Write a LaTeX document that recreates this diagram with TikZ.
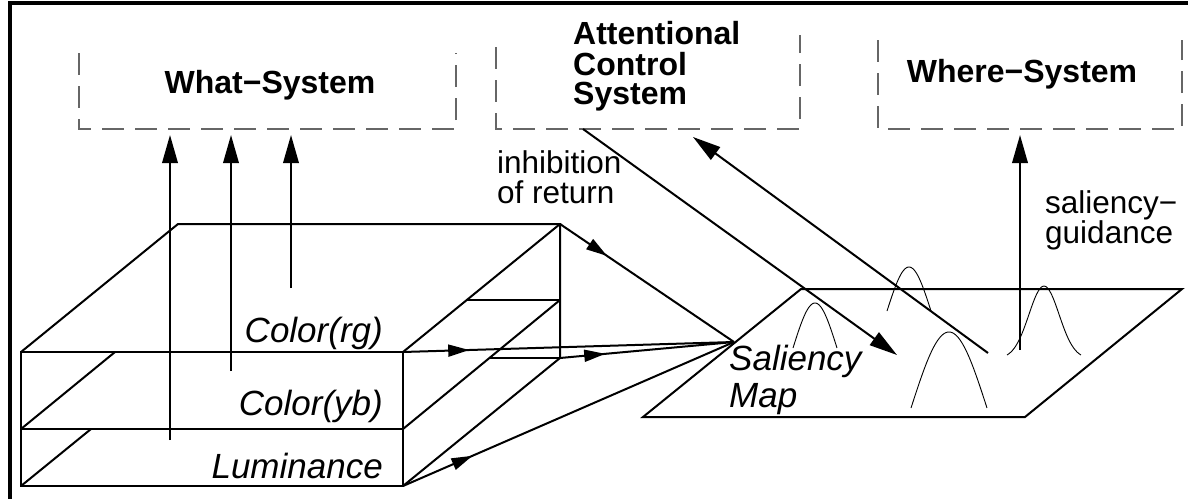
\documentclass[tikz,border=0pt]{standalone}
\usepackage{fontspec}
\setmainfont{Liberation Sans}
\usetikzlibrary{arrows.meta,decorations.markings}
\begin{document}
\begin{tikzpicture}[x=1pt,y=-1pt,
  thickline/.style={line width=2pt},
  dashbox/.style={line width=1.1pt, draw=black!60, dash pattern=on 22pt off 11pt},
  bigtip/.style={-{Triangle[length=28pt,width=15.5pt]}},
  midarrow/.style={postaction={decorate}, decoration={markings,
      mark=at position #1 with {\arrow{Triangle[length=21pt,width=12pt]}}}},
  bumpline/.style={line width=0.9pt},
  boldlbl/.style={font=\fontsize{32}{30}\selectfont\bfseries, inner sep=0pt},
  plainlbl/.style={font=\fontsize{31.5}{30}\selectfont, inner sep=0pt},
  itlbl/.style={font=\fontsize{35}{37}\selectfont\itshape, inner sep=0pt},
]
\useasboundingbox (0,0) rectangle (1188,498);

% frame
\draw[line width=3.5pt] (10,500) -- (10,3) -- (1192,3);

% dashed system boxes (open at the top)
\draw[dashbox] (79,53) -- (79,129) -- (456,129) -- (456,53);
\draw[dashbox] (496,47) -- (496,129) -- (800,129) -- (800,35);
\draw[dashbox] (878,40) -- (878,129) -- (1182,129) -- (1182,40);

% system labels
\node[boldlbl, anchor=base] (what) at (270,93) {What−System};
\node[boldlbl, anchor=base west] (att1) at (573,44) {Attentional};
\node[boldlbl, anchor=base west] (att2) at (573,75) {Control};
\node[boldlbl, anchor=base west] (att3) at (573,104) {System};
\node[boldlbl, anchor=base] (where) at (1022,82) {Where−System};

% other labels
\node[plainlbl, anchor=base west] (inh1) at (497,173) {inhibition};
\node[plainlbl, anchor=base west] (inh2) at (497,203) {of return};
\node[plainlbl, anchor=base west] (sg1) at (1045,213) {saliency−};
\node[plainlbl, anchor=base west] (sg2) at (1045,243) {guidance};
\node[itlbl, anchor=base east] (crg) at (383,342) {Color(rg)};
\node[itlbl, anchor=base east] (cyb) at (383,415) {Color(yb)};
\node[itlbl, anchor=base east] (lum) at (383,478) {Luminance};
\node[itlbl, anchor=base west] (sal1) at (729,370) {Saliency};
\node[itlbl, anchor=base west] (sal2) at (729,407) {Map};

% feature-map stack
\coordinate (FL) at (21,352);
\coordinate (BL) at (178,224);
\coordinate (BR) at (560,224);
\coordinate (FR) at (403,352);
\coordinate (FM) at (21,429);
\coordinate (FB) at (21,486);
\coordinate (FRM) at (403,429);
\coordinate (FRB) at (403,486);
\coordinate (BRM) at (560,300);
\coordinate (BRB) at (560,358);
\coordinate (TRM) at (467,300);
\coordinate (RMM) at (490,358);
\coordinate (LD1) at (115,352);
\coordinate (LD2) at (91,429);
\draw[thickline] (FL) -- (BL) -- (BR) -- (BRB);
\draw[thickline] (FL) -- (FR) -- (FRB) -- (FB) -- cycle;
\draw[thickline] (FM) -- (FRM);
\draw[thickline] (FR) -- (BR);
\draw[thickline] (FRM) -- (BRM);
\draw[thickline] (FRB) -- (BRB);
\draw[thickline] (TRM) -- (BRM);
\draw[thickline] (RMM) -- (BRB);
\draw[thickline] (FM) -- (LD1);
\draw[thickline] (FB) -- (LD2);

% upward arrows into What-System
\coordinate (a1s) at (170,440); \coordinate (a1e) at (170,135);
\coordinate (a2s) at (231,371); \coordinate (a2e) at (231,135);
\coordinate (a3s) at (291,288); \coordinate (a3e) at (291,135);
\draw[thickline, bigtip] (a1s) -- (a1e);
\draw[thickline, bigtip] (a2s) -- (a2e);
\draw[thickline, bigtip] (a3s) -- (a3e);

% saliency map
\coordinate (M1) at (801,289);
\coordinate (M2) at (1182,289);
\coordinate (M3) at (1025,417);
\coordinate (M4) at (643,417);
\draw[thickline] (M1) -- (M2) -- (M3) -- (M4) -- cycle;
\coordinate (S) at (734,342);

% feature maps to saliency map
\draw[thickline, midarrow=0.27] (BR) -- (S);
\draw[thickline, midarrow=0.20] (FR) -- (S);
\draw[thickline, midarrow=0.26] (BRB) -- (S);
\draw[thickline, midarrow=0.21] (FRB) -- (S);

% bumps
\foreach \xc/\hw/\yb/\hh/\kk in {815/22/348/45/0.5, 909/22/311/44/0.5, 949/38/408/76/0.5, 1044/37/355/69/3}
  \draw[bumpline] plot[domain=-1:1, samples=41, smooth]
    ({\xc+\hw*\x}, {\yb-\hh*(exp(-\kk*\x*\x)-exp(-\kk))/(1-exp(-\kk))});

% attentional control arrows
\coordinate (IR1) at (583,129); \coordinate (IR2) at (897,355);
\draw[thickline, bigtip] (IR1) -- (IR2);
\coordinate (AT1) at (988,353); \coordinate (AT2) at (693,137);
\draw[thickline, bigtip] (AT1) -- (AT2);

% saliency guidance
\coordinate (SG1) at (1020,350); \coordinate (SG2) at (1020,135);
\draw[thickline, bigtip] (SG1) -- (SG2);
\end{tikzpicture}
\end{document}
